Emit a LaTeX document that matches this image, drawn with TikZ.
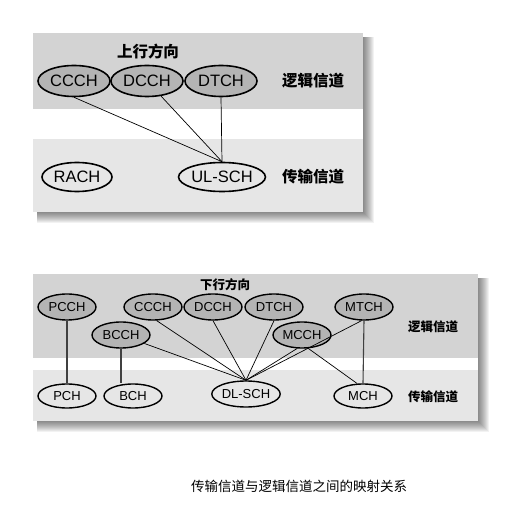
\documentclass[tikz,border=0pt]{standalone}
\usepackage{fontspec}
\setmainfont{Liberation Sans}
\newfontfamily\cjk{Noto Sans CJK SC}
\usetikzlibrary{shapes.geometric}

\tikzset{
  chbig/.style={ellipse, draw, line width=1.6pt, inner sep=0pt,
    minimum width=72pt, minimum height=31pt, font=\fontsize{16.5}{16.5}\selectfont},
  chsmall/.style={ellipse, draw, line width=1.4pt, inner sep=0pt,
    minimum width=58pt, minimum height=26pt, font=\fontsize{13}{13}\selectfont},
  logic/.style={fill=ovalgray},
  trans/.style={fill=lowband},
  link/.style={line width=0.7pt},
  vlink/.style={line width=1.1pt, black!75},
}
\definecolor{topband}{HTML}{D3D3D3}
\definecolor{lowband}{HTML}{E6E6E6}
\definecolor{ovalgray}{HTML}{B4B4B4}

\begin{document}
\begin{tikzpicture}[x=1pt, y=-1pt]
	\useasboundingbox (0,0) rectangle (531,513);
	\fill[white] (0,0) rectangle (531,513);

	% Shadows
	\foreach \s in {1,...,11} {
		\fill[black, opacity=0.05] (37,37) rectangle (363+\s, 212+\s);
		\fill[black, opacity=0.05] (37,278) rectangle (478+\s, 421+\s);
	}

	% Upper panel
	\fill[topband] (33,33) rectangle (363,109);
	\fill[white] (33,109) rectangle (363,139);
	\fill[lowband] (33,139) rectangle (363,212);

	\node (up) at (148,52) {\cjk\bfseries\fontsize{15.5}{15.5}\selectfont 上行方向};
	\node (uplogic) at (313,81) {\cjk\bfseries\fontsize{15.5}{15.5}\selectfont 逻辑信道};
	\node (uptrans) at (313,177) {\cjk\bfseries\fontsize{15.5}{15.5}\selectfont 传输信道};

	\node[chbig, logic] (ccch) at (74,81) {CCCH};
	\node[chbig, logic] (dcch) at (147,81) {DCCH};
	\node[chbig, logic] (dtch) at (221,81) {DTCH};
	\node[chbig, trans, minimum width=70pt, minimum height=29pt] (rach) at (77,177) {RACH};
	\node[chbig, trans, minimum height=29pt] (ulsch) at (222,177) {UL-SCH};

	\draw[link] (ccch.south) -- (ulsch.north);
	\draw[link] (dcch) -- (ulsch.north);
	\draw[link] (dtch.south) -- (ulsch.north);

	% Lower panel
	\fill[topband] (33,274) rectangle (478,358);
	\fill[white] (33,358) rectangle (478,370);
	\fill[lowband] (33,370) rectangle (478,421);

	\node (down) at (225,285) {\cjk\bfseries\fontsize{12.5}{12.5}\selectfont 下行方向};
	\node (downlogic) at (433,327) {\cjk\bfseries\fontsize{12.5}{12.5}\selectfont 逻辑信道};
	\node (downtrans) at (433,397) {\cjk\bfseries\fontsize{12.5}{12.5}\selectfont 传输信道};

	\node[chsmall, logic] (pcch) at (67,307) {PCCH};
	\node[chsmall, logic] (ccchd) at (153,307) {CCCH};
	\node[chsmall, logic] (dcchd) at (213,307) {DCCH};
	\node[chsmall, logic] (dtchd) at (274,307) {DTCH};
	\node[chsmall, logic] (mtch) at (364,307) {MTCH};
	\node[chsmall, logic] (bcch) at (121,335) {BCCH};
	\node[chsmall, logic] (mcch) at (302,335) {MCCH};

	\node[chsmall, trans, minimum height=24pt] (pch) at (67,396) {PCH};
	\node[chsmall, trans, minimum height=24pt] (bch) at (133,396) {BCH};
	\node[chsmall, trans, minimum height=26pt] (dlsch) at (246,394) {DL-SCH};
	\node[chsmall, trans, minimum height=24pt] (mch) at (363,396) {MCH};

	\draw[vlink] (pcch) -- (pch);
	\draw[vlink] (bcch.south) -- (bcch.south |- bch.north);
	\draw[vlink] (mtch.south) -- (mch.north);
	\draw[link] (bcch) -- (dlsch.north);
	\draw[link] (ccchd.-75) -- (dlsch.north);
	\draw[link] (dcchd.south) -- (dlsch.north);
	\draw[link] (dtchd.south) -- (dlsch.north);
	\draw[link] (mcch.-110) -- (dlsch.north);
	\draw[link] (mtch.-100) -- (dlsch.north);
	\draw[link] (mcch.-65) -- (mch.115);

	% Caption
	\node (caption) at (299,486) {\cjk\fontsize{13.5}{13.5}\selectfont 传输信道与逻辑信道之间的映射关系};
\end{tikzpicture}
\end{document}
